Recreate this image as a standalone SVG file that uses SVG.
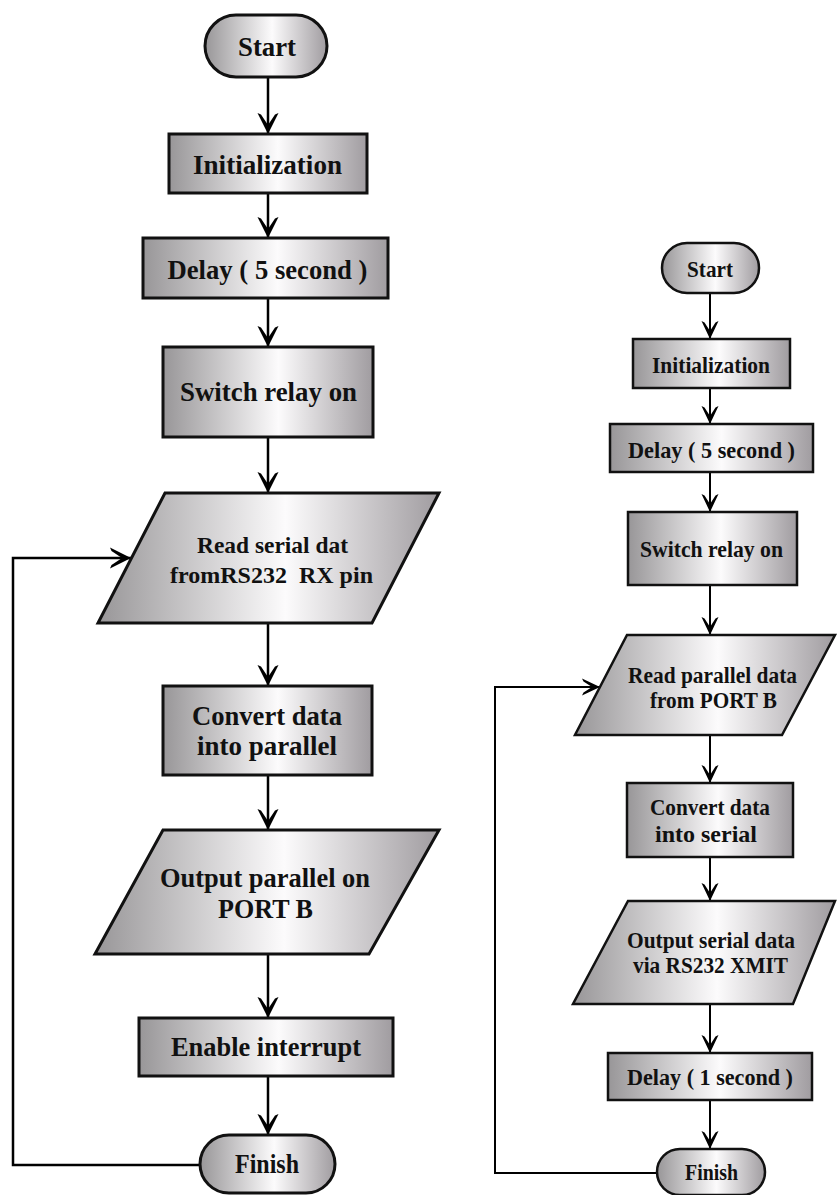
<svg xmlns="http://www.w3.org/2000/svg" width="838" height="1195" viewBox="0 0 838 1195">
  <defs>
    <!-- metallic shading used by every box -->
    <linearGradient id="shade" x1="0" y1="0" x2="1" y2="0">
      <stop offset="0" stop-color="#989698"/>
      <stop offset="0.55" stop-color="#fcfbfc"/>
      <stop offset="1" stop-color="#a09ca0"/>
    </linearGradient>
    <marker id="headL" viewBox="-24 -12 26 24" markerWidth="26" markerHeight="24" refX="0" refY="0" orient="auto" markerUnits="userSpaceOnUse">
      <path d="M0,0 L-21,-10.5 L-19.5,-7 L-9,0 L-19.5,7 L-21,10.5 Z" fill="#000"/>
    </marker>
    <marker id="headR" viewBox="-24 -12 26 24" markerWidth="26" markerHeight="24" refX="0" refY="0" orient="auto" markerUnits="userSpaceOnUse">
      <path d="M0,0 L-18,-8.5 L-16.5,-5.5 L-8,0 L-16.5,5.5 L-18,8.5 Z" fill="#000"/>
    </marker>
  </defs>
  <style>
    .nodeL { fill: url(#shade); stroke: #111; stroke-width: 3; }
    .nodeR { fill: url(#shade); stroke: #111; stroke-width: 2.5; }
    .lab { font-family: "Liberation Serif", "Times New Roman", serif; font-weight: bold; fill: #111; text-anchor: middle; }
    .big { font-size: 28px; }
    .mid { font-size: 24px; }
    .sml { font-size: 23px; }
    .linkL { fill: none; stroke: #000; stroke-width: 2.5; marker-end: url(#headL); }
    .linkR { fill: none; stroke: #000; stroke-width: 2; marker-end: url(#headR); }
  </style>
  <rect width="838" height="1195" fill="#fff"/>

  <!-- connectors -->
  <g id="connectors">
    <line class="linkL" x1="268" y1="77" x2="268" y2="134"/>
    <line class="linkL" x1="268" y1="193" x2="268" y2="238"/>
    <line class="linkL" x1="268" y1="298" x2="268" y2="347"/>
    <line class="linkL" x1="268" y1="437" x2="268" y2="493"/>
    <line class="linkL" x1="268" y1="623" x2="268" y2="686"/>
    <line class="linkL" x1="268" y1="775" x2="268" y2="830"/>
    <line class="linkL" x1="268" y1="954" x2="268" y2="1018"/>
    <line class="linkL" x1="268" y1="1076" x2="268" y2="1135"/>
    <polyline class="linkL" points="200,1165 13,1165 13,558 131,558"/>

    <line class="linkR" x1="710" y1="293" x2="710" y2="339"/>
    <line class="linkR" x1="710" y1="388" x2="710" y2="424"/>
    <line class="linkR" x1="710" y1="472" x2="710" y2="512"/>
    <line class="linkR" x1="710" y1="585" x2="710" y2="635"/>
    <line class="linkR" x1="710" y1="735" x2="710" y2="783"/>
    <line class="linkR" x1="710" y1="857" x2="710" y2="901"/>
    <line class="linkR" x1="710" y1="1004" x2="710" y2="1053"/>
    <line class="linkR" x1="710" y1="1100" x2="710" y2="1149"/>
    <polyline class="linkR" points="657,1173 495,1173 495,687 600,687"/>
  </g>

  <!-- left flow: serial to parallel -->
  <g id="start1">
    <rect class="nodeL" x="205" y="15" width="122" height="62" rx="31"/>
    <text class="lab big" x="267" y="56" textLength="58" lengthAdjust="spacingAndGlyphs">Start</text>
  </g>
  <g id="init1">
    <rect class="nodeL" x="169" y="134" width="198" height="59"/>
    <text class="lab big" x="267.5" y="174" textLength="149" lengthAdjust="spacingAndGlyphs">Initialization</text>
  </g>
  <g id="delay1">
    <rect class="nodeL" x="143" y="238" width="245" height="60"/>
    <text class="lab big" x="267.5" y="279" textLength="200" lengthAdjust="spacingAndGlyphs">Delay ( 5 second )</text>
  </g>
  <g id="relay1">
    <rect class="nodeL" x="163" y="347" width="210" height="90"/>
    <text class="lab big" x="268.5" y="401" textLength="177" lengthAdjust="spacingAndGlyphs">Switch relay on</text>
  </g>
  <g id="read1">
    <polygon class="nodeL" points="165,493 439,493 372,623 98,623"/>
    <text class="lab mid" x="272.5" y="553" textLength="151" lengthAdjust="spacingAndGlyphs">Read serial dat</text>
    <text class="lab mid" x="271.5" y="583" textLength="203" lengthAdjust="spacingAndGlyphs" xml:space="preserve">fromRS232  RX pin</text>
  </g>
  <g id="convert1">
    <rect class="nodeL" x="163" y="686" width="209" height="89"/>
    <text class="lab big" x="267" y="725" textLength="150" lengthAdjust="spacingAndGlyphs">Convert data</text>
    <text class="lab big" x="267" y="755" textLength="140" lengthAdjust="spacingAndGlyphs">into parallel</text>
  </g>
  <g id="output1">
    <polygon class="nodeL" points="163,830 439,830 369,954 95,954"/>
    <text class="lab big" x="265" y="887" textLength="210" lengthAdjust="spacingAndGlyphs">Output parallel on</text>
    <text class="lab big" x="265.5" y="918" textLength="95" lengthAdjust="spacingAndGlyphs">PORT B</text>
  </g>
  <g id="interrupt1">
    <rect class="nodeL" x="139" y="1018" width="254" height="58"/>
    <text class="lab big" x="266" y="1056" textLength="190" lengthAdjust="spacingAndGlyphs">Enable interrupt</text>
  </g>
  <g id="finish1">
    <rect class="nodeL" x="200" y="1135" width="135" height="58" rx="29"/>
    <text class="lab big" x="267" y="1173" textLength="64" lengthAdjust="spacingAndGlyphs">Finish</text>
  </g>

  <!-- right flow: parallel to serial -->
  <g id="start2">
    <rect class="nodeR" x="662" y="243" width="97" height="50" rx="25"/>
    <text class="lab sml" x="710" y="277" textLength="46" lengthAdjust="spacingAndGlyphs">Start</text>
  </g>
  <g id="init2">
    <rect class="nodeR" x="633" y="339" width="157" height="49"/>
    <text class="lab sml" x="711" y="373" textLength="118" lengthAdjust="spacingAndGlyphs">Initialization</text>
  </g>
  <g id="delay2">
    <rect class="nodeR" x="610" y="424" width="203" height="48"/>
    <text class="lab sml" x="711.5" y="458" textLength="167" lengthAdjust="spacingAndGlyphs">Delay ( 5 second )</text>
  </g>
  <g id="relay2">
    <rect class="nodeR" x="628" y="512" width="169" height="73"/>
    <text class="lab sml" x="711.5" y="557" textLength="143" lengthAdjust="spacingAndGlyphs">Switch relay on</text>
  </g>
  <g id="read2">
    <polygon class="nodeR" points="627,635 835,635 782,735 575,735"/>
    <text class="lab sml" x="712.5" y="683" textLength="169" lengthAdjust="spacingAndGlyphs">Read parallel data</text>
    <text class="lab sml" x="713.5" y="708" textLength="127" lengthAdjust="spacingAndGlyphs">from PORT B</text>
  </g>
  <g id="convert2">
    <rect class="nodeR" x="627" y="783" width="166" height="74"/>
    <text class="lab sml" x="710" y="815" textLength="120" lengthAdjust="spacingAndGlyphs">Convert data</text>
    <text class="lab sml" x="706" y="842" textLength="102" lengthAdjust="spacingAndGlyphs">into serial</text>
  </g>
  <g id="output2">
    <polygon class="nodeR" points="628,901 835,901 793,1004 573,1004"/>
    <text class="lab sml" x="711" y="948" textLength="168" lengthAdjust="spacingAndGlyphs">Output serial data</text>
    <text class="lab sml" x="710.5" y="973" textLength="155" lengthAdjust="spacingAndGlyphs">via RS232 XMIT</text>
  </g>
  <g id="delay3">
    <rect class="nodeR" x="608" y="1053" width="204" height="47"/>
    <text class="lab sml" x="710" y="1085" textLength="166" lengthAdjust="spacingAndGlyphs">Delay ( 1 second )</text>
  </g>
  <g id="finish2">
    <rect class="nodeR" x="657" y="1149" width="108" height="46" rx="23"/>
    <text class="lab sml" x="711.5" y="1180" textLength="53" lengthAdjust="spacingAndGlyphs">Finish</text>
  </g>
</svg>
